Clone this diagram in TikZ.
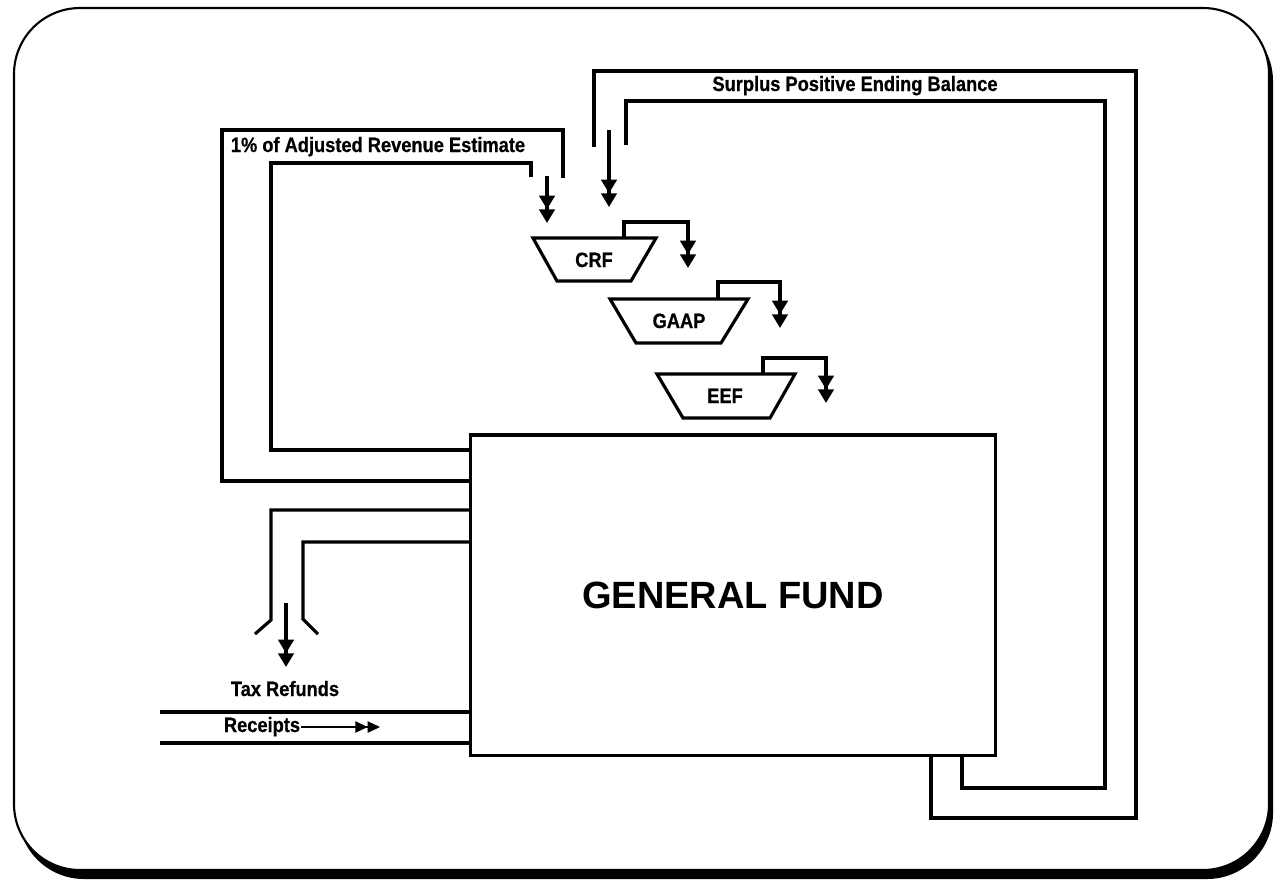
\documentclass[tikz,border=0pt]{standalone}
\usepackage{fontspec}
\setmainfont{Liberation Sans}
\newfontfamily\condfont[FakeStretch=0.88,FakeBold=0.6]{Liberation Sans}
\usetikzlibrary{arrows.meta}
\begin{document}
\begin{tikzpicture}[x=0.01cm,y=-0.01cm,
  pipe/.style={line width=0.9pt},
  flow/.style={line width=0.9pt,-{Triangle[width=4.4pt,length=3.9pt,sep=0pt]Triangle[width=4.4pt,length=3.9pt]}},
  thinflow/.style={line width=0.4pt,-{Triangle[width=3.2pt,length=3.5pt,sep=0pt]Triangle[width=3.2pt,length=3.5pt]}},
  lbl/.style={font=\condfont\bfseries\fontsize{5.9pt}{7pt}\selectfont, inner sep=0pt, anchor=base},
  tank/.style={line width=0.9pt, line join=miter},
  fund/.style={draw, line width=0.9pt, minimum width=5.24cm, minimum height=3.2cm, inner sep=0pt,
    font=\bfseries\fontsize{10.8pt}{13pt}\selectfont}
]
\useasboundingbox (0,0) rectangle (1276,881);
% frame with shadow
\fill[black, rounded corners=0.66cm] (18,15) rectangle (1273,879);
\draw[fill=white, line width=0.6pt, rounded corners=0.66cm] (14,8) rectangle (1269,870);

% general fund
\node[fund] (gf) at (733,595) {GENERAL FUND};

% 1% of adjusted revenue estimate loop
\coordinate (adjA) at (563,178);
\coordinate (adjB) at (531,177);
\coordinate (adjS) at (547,176);
\coordinate (adjE) at (547,223);
\draw[pipe] (gf.west |- 0,481) -| (222,130) -| (adjA);
\draw[pipe] (gf.west |- 0,450) -| (271,163) -| (adjB);
\draw[flow] (adjS) -- (adjE);
\node[lbl] (adj) at (378,152) {1\% of Adjusted Revenue Estimate};

% surplus positive ending balance loop
\coordinate (spA) at (594,147);
\coordinate (spB) at (626,145);
\coordinate (spS) at (609,130);
\coordinate (spE) at (609,207);
\draw[pipe] (spA) |- (1136,71) -- (1136,818) -| (gf.south -| 931,0);
\draw[pipe] (spB) |- (1105,101) -- (1105,788) -| (gf.south -| 962,0);
\draw[flow] (spS) -- (spE);
\node[lbl] (spl) at (855,91) {Surplus Positive Ending Balance};

% CRF
\draw[tank] (533,238) -- (656,238) -- (631,281) -- (557,281) -- cycle;
\node[lbl] (crf) at (594,267) {CRF};
\coordinate (crfE) at (688,268);
\draw[flow] (624,238) |- (688,222) -- (crfE);

% GAAP
\draw[tank] (610,299) -- (748,299) -- (721,343) -- (636,343) -- cycle;
\node[lbl] (gaap) at (679,328) {GAAP};
\coordinate (gaapE) at (780,328);
\draw[flow] (718,299) |- (780,282) -- (gaapE);

% EEF
\draw[tank] (657,374) -- (795,374) -- (770,418) -- (683,418) -- cycle;
\node[lbl] (eef) at (725,403) {EEF};
\coordinate (eefE) at (826,403);
\draw[flow] (763,374) |- (826,358) -- (eefE);

% tax refunds
\draw[pipe] (gf.west |- 0,510) -| (271,620) -- (255,634);
\draw[pipe] (gf.west |- 0,542) -| (303,619) -- (318,634);
\coordinate (taxS) at (286,603);
\coordinate (taxE) at (286,667);
\draw[flow] (taxS) -- (taxE);
\node[lbl] (tax) at (285,696) {Tax Refunds};

% receipts
\coordinate (rcA) at (160,712);
\coordinate (rcB) at (160,743);
\draw[pipe] (rcA) -- (gf.west |- rcA);
\draw[pipe] (rcB) -- (gf.west |- rcB);
\node[lbl] (rc) at (262,732) {Receipts};
\draw[thinflow] (rc.east |- 0,727) -- (380,727);
\end{tikzpicture}
\end{document}
